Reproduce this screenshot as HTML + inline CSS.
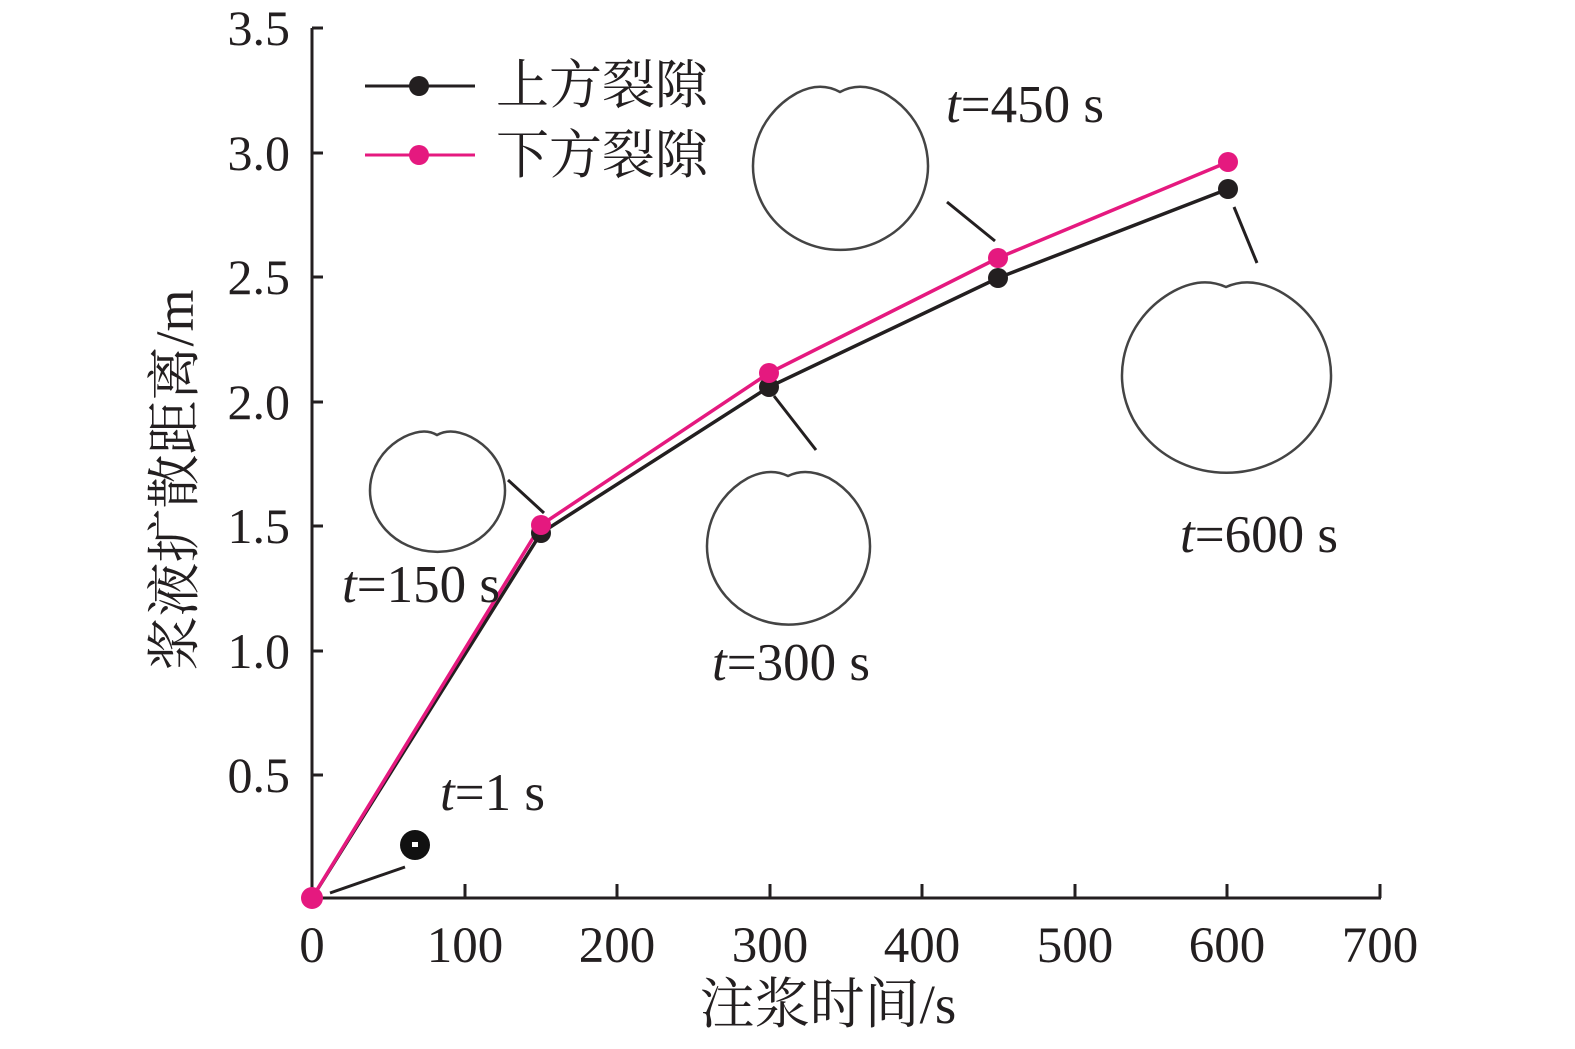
<!DOCTYPE html>
<html><head><meta charset="utf-8"><style>
html,body{margin:0;padding:0;background:#fff;}
svg{display:block;}
text{font-family:"Liberation Serif","Noto Serif CJK SC",serif;fill:#231f20;}
</style></head><body>
<svg width="1575" height="1049" viewBox="0 0 1575 1049" xmlns="http://www.w3.org/2000/svg">
<g stroke="#231f20" stroke-width="3" fill="none">
<line x1="312" y1="28" x2="312" y2="899"/>
<line x1="311" y1="898" x2="1381" y2="898"/>
<line x1="312" y1="28" x2="323" y2="28"/>
<line x1="312" y1="153" x2="323" y2="153"/>
<line x1="312" y1="277" x2="323" y2="277"/>
<line x1="312" y1="402" x2="323" y2="402"/>
<line x1="312" y1="526" x2="323" y2="526"/>
<line x1="312" y1="651" x2="323" y2="651"/>
<line x1="312" y1="775" x2="323" y2="775"/>
<line x1="465" y1="898" x2="465" y2="884"/>
<line x1="617" y1="898" x2="617" y2="884"/>
<line x1="770" y1="898" x2="770" y2="884"/>
<line x1="922" y1="898" x2="922" y2="884"/>
<line x1="1075" y1="898" x2="1075" y2="884"/>
<line x1="1227" y1="898" x2="1227" y2="884"/>
<line x1="1380" y1="898" x2="1380" y2="884"/>
</g>
<g font-size="50" text-anchor="end">
<text x="290" y="45">3.5</text><text x="290" y="170">3.0</text><text x="290" y="294">2.5</text>
<text x="290" y="419">2.0</text><text x="290" y="543">1.5</text><text x="290" y="668">1.0</text>
<text x="290" y="792">0.5</text>
</g>
<g font-size="51" text-anchor="middle">
<text x="312" y="962">0</text><text x="465" y="962">100</text><text x="617" y="962">200</text>
<text x="770" y="962">300</text><text x="922" y="962">400</text><text x="1075" y="962">500</text>
<text x="1227" y="962">600</text><text x="1380" y="962">700</text>
</g>
<text x="828" y="1023" font-size="55" text-anchor="middle">注浆时间/s</text>
<text transform="translate(193,480) rotate(-90)" font-size="54" text-anchor="middle">浆液扩散距离/m</text>
<!-- shapes -->
<g stroke="#444" stroke-width="2.5" fill="none">
<path d="M437,435 Q451,427 471,437 A67.5,61.5 0 1 1 404,437 Q424,427 437,435 Z"/>
<path d="M788,476 Q806,467 829,478 A81.5,78.5 0 1 1 748,478 Q770,467 788,476 Z"/>
<path d="M840,92 Q860,81 884,93 A87.5,84 0 1 1 797,93 Q820,81 840,92 Z"/>
<path d="M1226,287 Q1250,276 1279,291 A104.5,97.5 0 1 1 1174,291 Q1202,276 1226,287 Z"/>
</g>
<circle cx="415" cy="845" r="15" fill="#111"/>
<rect x="412" y="842" width="6" height="5" fill="#fff"/>
<g stroke="#231f20" stroke-width="3">
<line x1="330" y1="893" x2="405" y2="867"/>
<line x1="508" y1="480" x2="544" y2="513"/>
<line x1="774" y1="396" x2="816" y2="450"/>
<line x1="947" y1="202" x2="995" y2="241"/>
<line x1="1234" y1="207" x2="1257" y2="263"/>
</g>
<!-- series -->
<polyline points="312,898 541,533 769,387 998,278 1228,189" fill="none" stroke="#231f20" stroke-width="3.5"/>
<polyline points="312,898 541,525 769,373 998,258 1228,162" fill="none" stroke="#e5197f" stroke-width="3.5"/>
<g fill="#231f20"><circle cx="541" cy="533" r="10"/><circle cx="769" cy="387" r="10"/><circle cx="998" cy="278" r="10"/><circle cx="1228" cy="189" r="10"/></g>
<g fill="#e5197f"><circle cx="312" cy="898" r="11"/><circle cx="541" cy="525" r="10"/><circle cx="769" cy="373" r="10"/><circle cx="998" cy="258" r="10"/><circle cx="1228" cy="162" r="10"/></g>
<!-- labels -->
<g font-size="53">
<text x="440" y="810"><tspan font-style="italic">t</tspan>=1 s</text>
<text x="342" y="602"><tspan font-style="italic">t</tspan>=150 s</text>
<text x="712" y="680"><tspan font-style="italic">t</tspan>=300 s</text>
<text x="946" y="122"><tspan font-style="italic">t</tspan>=450 s</text>
<text x="1180" y="552"><tspan font-style="italic">t</tspan>=600 s</text>
</g>
<!-- legend -->
<line x1="365" y1="86" x2="475" y2="86" stroke="#231f20" stroke-width="3"/>
<circle cx="419" cy="86" r="10" fill="#231f20"/>
<line x1="365" y1="155" x2="475" y2="155" stroke="#e5197f" stroke-width="3"/>
<circle cx="419" cy="155" r="10" fill="#e5197f"/>
<text x="496" y="103" font-size="53">上方裂隙</text>
<text x="496" y="173" font-size="53">下方裂隙</text>
</svg>
</body></html>
